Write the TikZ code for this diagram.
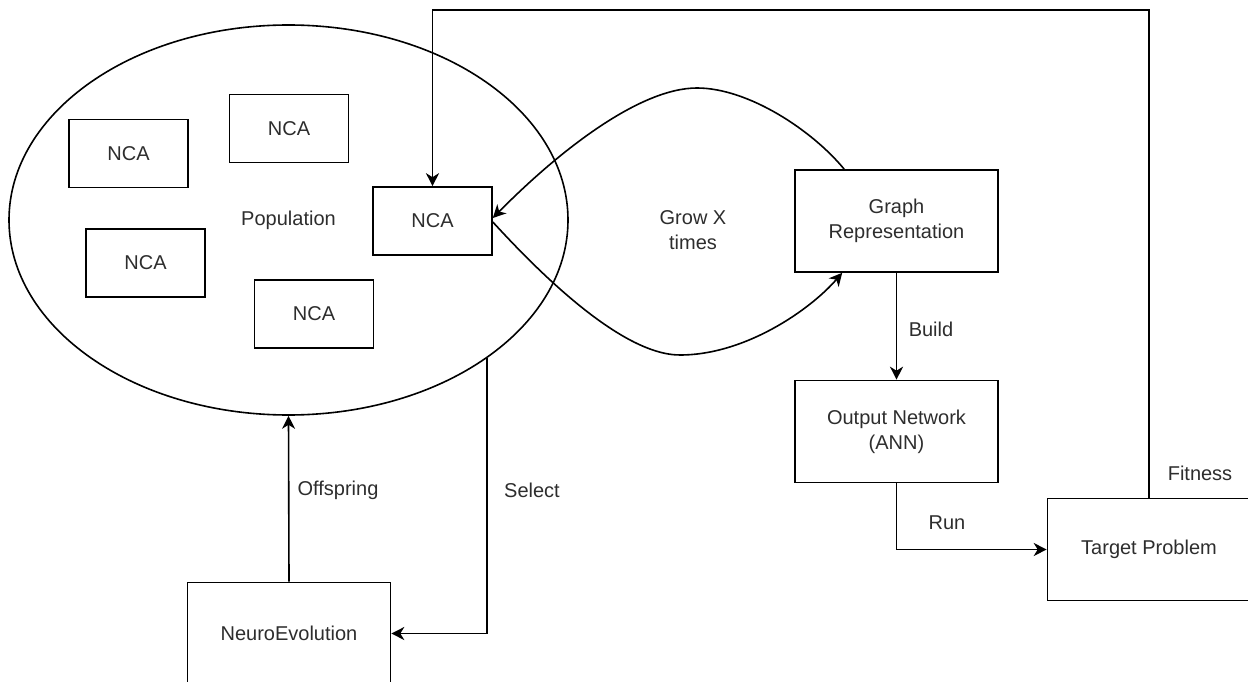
\documentclass[tikz,border=0pt]{standalone}
\usepackage{fontspec}
\setmainfont{Liberation Sans}
\usetikzlibrary{arrows.meta,shapes.geometric}
\definecolor{txt}{RGB}{45,45,45}
\begin{document}
\begin{tikzpicture}[x=1pt,y=-1pt,
  every node/.style={font=\fontsize{20}{25}\selectfont, text=txt},
  box/.style={draw=black, line width=1.6pt, rectangle, inner sep=0pt, align=center},
  ncabox/.style={box, minimum width=119, minimum height=68},
  bigbox/.style={box, minimum width=203, minimum height=102},
  lbl/.style={inner sep=0pt, align=center},
  conn/.style={draw=black, line width=1.6pt},
  arr/.style={conn, -{Stealth[length=13pt, width=13pt, inset=4pt]}}
]
\useasboundingbox (0,0) rectangle (1248,682);

% population of NCAs
\node[draw=black, line width=1.6pt, ellipse, inner sep=0pt,
      minimum width=559, minimum height=390] (pop) at (288.5,220) {Population};
\node[ncabox] (n1) at (128.5,153.5) {NCA};
\node[ncabox] (n2) at (289,128.5) {NCA};
\node[ncabox] (n3) at (145.5,263) {NCA};
\node[ncabox] (n4) at (314,314) {NCA};
\node[ncabox] (nc) at (432.5,221) {NCA};

% pipeline boxes
\node[bigbox] (gr) at (896.5,221) {Graph\\Representation};
\node[bigbox] (out) at (896.5,431.5) {Output Network\\(ANN)};
\node[bigbox] (tp) at (1149,549.5) {Target Problem};
\node[bigbox] (ne) at (289,633.5) {NeuroEvolution};

% helper points
\coordinate (ctop) at (0,10);
\coordinate (pk1) at (697,88);
\coordinate (pk2) at (680,355);

% growth loop between the selected NCA and its graph
\draw[arr] ([xshift=50]gr.north west) .. controls (812,130) and (748,88) .. (pk1)
  .. controls (640,88) and (560,150) .. ([yshift=3]nc.east);
\draw[arr] ([yshift=-1]nc.east) .. controls (535,268) and (620,355) .. (pk2)
  .. controls (745,355) and (810,310) .. ([xshift=48]gr.south west);
\node[lbl] at (693,230) {Grow X\\times};

% build, run, fitness
\draw[arr] (gr.south) -- (out.north);
\node[lbl] at (931,329) {Build};
\draw[arr] (out.south) |- (tp.west);
\node[lbl] at (947,523) {Run};
\draw[arr] (tp.north) -- (tp.north |- ctop) -| (nc.north);
\node[lbl] at (1200,473) {Fitness};

% evolution loop
\draw[arr] (pop.south east) |- (ne.east);
\node[lbl] at (532,490) {Select};
\draw[arr] (ne.north) -- (pop.south);
\node[lbl] at (338,490) {Offspring};
\end{tikzpicture}
\end{document}
